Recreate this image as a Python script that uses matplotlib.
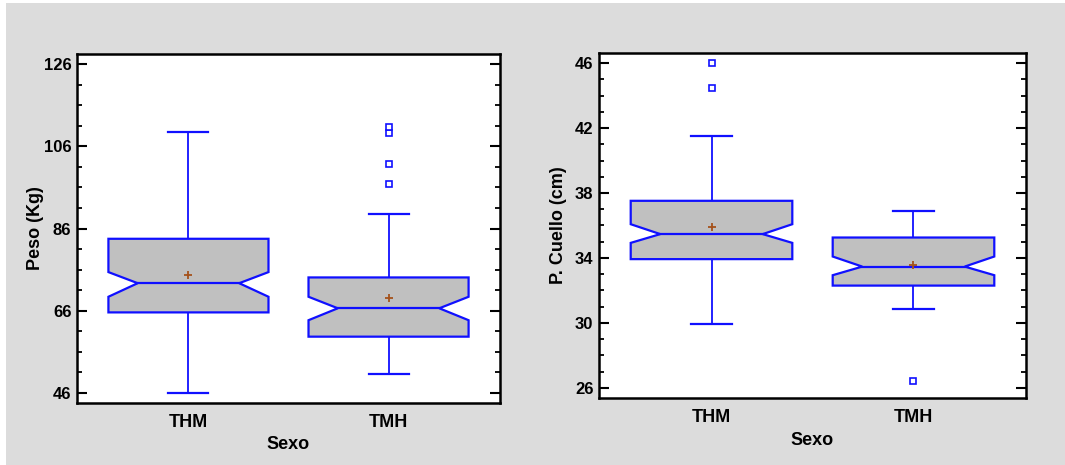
import matplotlib
matplotlib.use("Agg")
import matplotlib.pyplot as plt
from matplotlib.patches import Polygon, Rectangle
from matplotlib.ticker import MultipleLocator

plt.rcParams['font.family'] = ['Liberation Sans', 'DejaVu Sans']
plt.rcParams['font.weight'] = 'bold'

categories = ['THM', 'TMH']
group_label = 'Sexo'

# Peso (Kg) summary statistics per group
peso_whis_lo = [46.0, 50.7]
peso_q1 = [65.6, 59.7]
peso_notch_lo = [69.4, 63.7]
peso_med = [72.7, 66.6]
peso_notch_hi = [75.4, 69.4]
peso_q3 = [83.5, 74.1]
peso_whis_hi = [109.5, 89.6]
peso_mean = [74.8, 69.0]
peso_outliers = [[], [96.9, 101.6, 109.2, 110.7]]

# P. Cuello (cm) summary statistics per group
cuello_whis_lo = [29.96, 30.87]
cuello_q1 = [33.93, 32.30]
cuello_notch_lo = [34.93, 32.94]
cuello_med = [35.47, 33.47]
cuello_notch_hi = [36.08, 34.09]
cuello_q3 = [37.52, 35.26]
cuello_whis_hi = [41.48, 36.88]
cuello_mean = [35.88, 33.54]
cuello_outliers = [[44.44, 46.0], [26.45]]

BLUE = '#1010FF'
FILL = '#C0C0C0'
MEAN_C = '#A5521B'
BG = '#DCDCDC'

BOX_W = 0.8
NOTCH_INSET = 0.183
CAP_W = 0.2
TICK_FS = 12
LABEL_FS = 13


def notched_box(ax, pos, wlo, q1, nlo, med, nhi, q3, whi, mean, outl):
    left, right = pos - BOX_W / 2, pos + BOX_W / 2
    nl, nr = left + BOX_W * NOTCH_INSET, right - BOX_W * NOTCH_INSET
    xs = [left, right, right, nr, right, right, left, left, nl, left]
    ys = [q1, q1, nlo, med, nhi, q3, q3, nhi, med, nlo]
    ax.add_patch(Polygon(list(zip(xs, ys)), closed=True, facecolor=FILL,
                         edgecolor=BLUE, linewidth=1.6, zorder=2))
    ax.plot([nl, nr], [med, med], color=BLUE, lw=1.6, zorder=3)
    ax.plot([pos, pos], [wlo, q1], color=BLUE, lw=1.3, zorder=1)
    ax.plot([pos, pos], [q3, whi], color=BLUE, lw=1.3, zorder=1)
    for w in (wlo, whi):
        ax.plot([pos - CAP_W / 2, pos + CAP_W / 2], [w, w], color=BLUE, lw=1.6, zorder=1)
    ax.plot([pos], [mean], marker='+', color=MEAN_C, ms=6, mew=1.3, zorder=4)
    if outl:
        ax.plot([pos] * len(outl), outl, ls='none', marker='s', ms=4,
                mfc='white', mec=BLUE, mew=1.2, zorder=4)


def panel(ax, stats, ylabel, ylim, major, minor, xlab_y, ylab_x):
    n = len(categories)
    for i in range(n):
        notched_box(ax, i + 1, *[s[i] for s in stats])
    ax.set_xlim(0.443, 2.557)
    ax.set_ylim(*ylim)
    ax.set_xticks(range(1, n + 1))
    ax.set_xticklabels(categories, fontsize=LABEL_FS, fontweight='bold')
    ax.yaxis.set_major_locator(major)
    ax.yaxis.set_minor_locator(minor)
    ax.tick_params(axis='x', length=0, pad=8)
    ax.tick_params(axis='y', which='major', direction='in', length=7, width=1.5,
                   left=True, right=True, labelsize=TICK_FS, pad=4)
    ax.tick_params(axis='y', which='minor', direction='in', length=3.5, width=1.3,
                   left=True, right=True)
    for lab in ax.get_yticklabels():
        lab.set_fontweight('bold')
    for sp in ax.spines.values():
        sp.set_linewidth(1.8)
    ax.set_xlabel(group_label, fontsize=LABEL_FS, fontweight='bold')
    ax.xaxis.set_label_coords(0.5, xlab_y)
    ax.set_ylabel(ylabel, fontsize=LABEL_FS, fontweight='bold')
    ax.yaxis.set_label_coords(ylab_x, 0.5)


fig = plt.figure(figsize=(10.65, 4.65), dpi=100)
fig.patch.set_facecolor('white')
fig.add_artist(Rectangle((6 / 1065, 0), 1 - 6 / 1065, (465 - 3) / 465,
                         transform=fig.transFigure, facecolor=BG, edgecolor='none', zorder=-10))

ax1 = fig.add_axes([77 / 1065, (465 - 403) / 465, 423 / 1065, 349 / 465])
ax2 = fig.add_axes([599 / 1065, (465 - 398) / 465, 427 / 1065, 345 / 465])

panel(ax1,
      [peso_whis_lo, peso_q1, peso_notch_lo, peso_med, peso_notch_hi, peso_q3,
       peso_whis_hi, peso_mean, peso_outliers],
      'Peso (Kg)', (43.57, 128.43),
      MultipleLocator(20, offset=6), MultipleLocator(5, offset=1),
      -0.095, -0.078)
panel(ax2,
      [cuello_whis_lo, cuello_q1, cuello_notch_lo, cuello_med, cuello_notch_hi, cuello_q3,
       cuello_whis_hi, cuello_mean, cuello_outliers],
      'P. Cuello (cm)', (25.38, 46.62),
      MultipleLocator(4, offset=2), MultipleLocator(1),
      -0.098, -0.075)

fig.savefig('out.png', dpi=100)
